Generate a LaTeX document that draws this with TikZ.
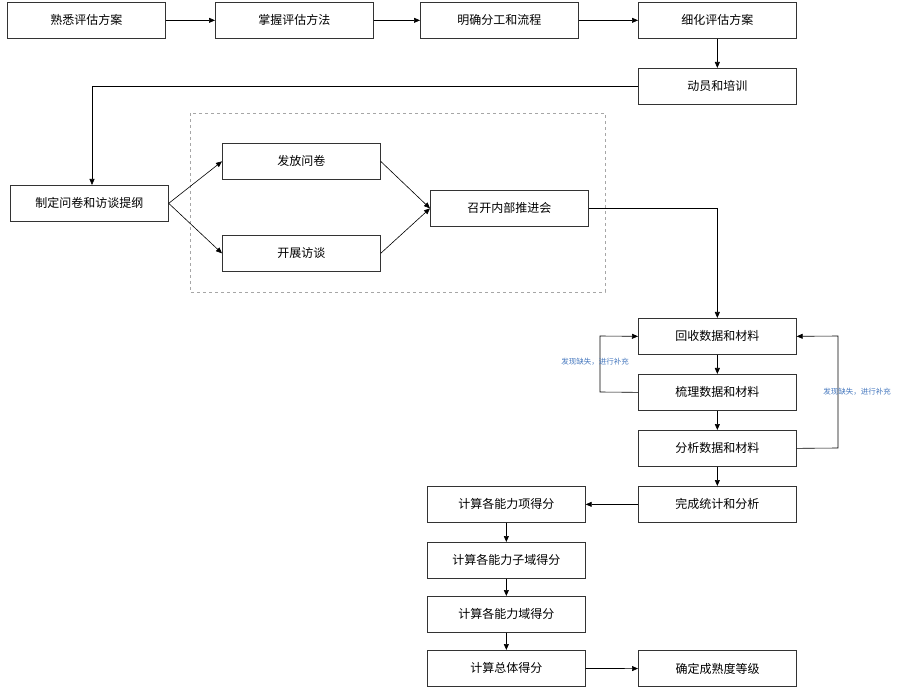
\documentclass[tikz,border=0pt]{standalone}
\usepackage{fontspec}
\newfontfamily\cjk{Noto Sans CJK SC}
\usetikzlibrary{arrows.meta}
\definecolor{lbl}{RGB}{70,120,190}
\begin{document}
\begin{tikzpicture}[x=1pt,y=-1pt,
  box/.style={draw=black!80,line width=0.7pt,minimum width=158pt,minimum height=36pt,inner sep=0pt,font=\cjk\fontsize{12}{14}\selectfont,anchor=north west,text width=150pt,align=center},
  ar/.style={-{Triangle[length=6pt,width=5pt]},line width=0.6pt},
  lab/.style={font=\cjk\fontsize{7.5}{9}\selectfont,text=lbl,inner sep=1pt}]
\useasboundingbox (0,0) rectangle (910,692);
\draw[dashed,gray!70,line width=0.5pt] (190,113) rectangle (605,292);
\node[box] (a) at (7,2) {熟悉评估方案};
\node[box] (b) at (215,2) {掌握评估方法};
\node[box] (c) at (420,2) {明确分工和流程};
\node[box] (d) at (638,2) {细化评估方案};
\node[box] (e) at (638,68) {动员和培训};
\node[box] (f) at (10,185) {制定问卷和访谈提纲};
\node[box] (g) at (222,143) {发放问卷};
\node[box] (h) at (222,235) {开展访谈};
\node[box] (i) at (430,190) {召开内部推进会};
\node[box] (j) at (638,318) {回收数据和材料};
\node[box] (k) at (638,374) {梳理数据和材料};
\node[box] (l) at (638,430) {分析数据和材料};
\node[box] (m) at (638,486) {完成统计和分析};
\node[box] (n) at (427,486) {计算各能力项得分};
\node[box] (o) at (427,542) {计算各能力子域得分};
\node[box] (p) at (427,596) {计算各能力域得分};
\node[box] (q) at (427,650) {计算总体得分};
\node[box,line width=1.4pt] (r) at (638,650) {确定成熟度等级};
\draw[ar] (a) -- (b);
\draw[ar] (b) -- (c);
\draw[ar] (c) -- (d);
\draw[ar] (d) -- (e);
\draw[ar] (e.west) -| (92,185);
\draw[ar] (f.east) -- (g.west);
\draw[ar] (f.east) -- (h.west);
\draw[ar] (g.east) -- (i.west);
\draw[ar] (h.east) -- (i.west);
\draw[ar] (i.east) -| (j.north);
\draw[ar] (j) -- (k);
\draw[ar] (k) -- (l);
\draw[ar] (l) -- (m);
\draw[ar] (k.west) -- (600,392) -- (600,336) -- (j.west);
\draw[ar] (l.east) -- (838,448) -- (838,336) -- (j.east);
\node[lab] (la) at (595,362) {发现缺失，进行补充};
\node[lab] (lb) at (857,392) {发现缺失，进行补充};
\draw[ar] (m) -- (n);
\draw[ar] (n) -- (o);
\draw[ar] (o) -- (p);
\draw[ar] (p) -- (q);
\draw[ar] (q) -- (r);
\end{tikzpicture}
\end{document}
